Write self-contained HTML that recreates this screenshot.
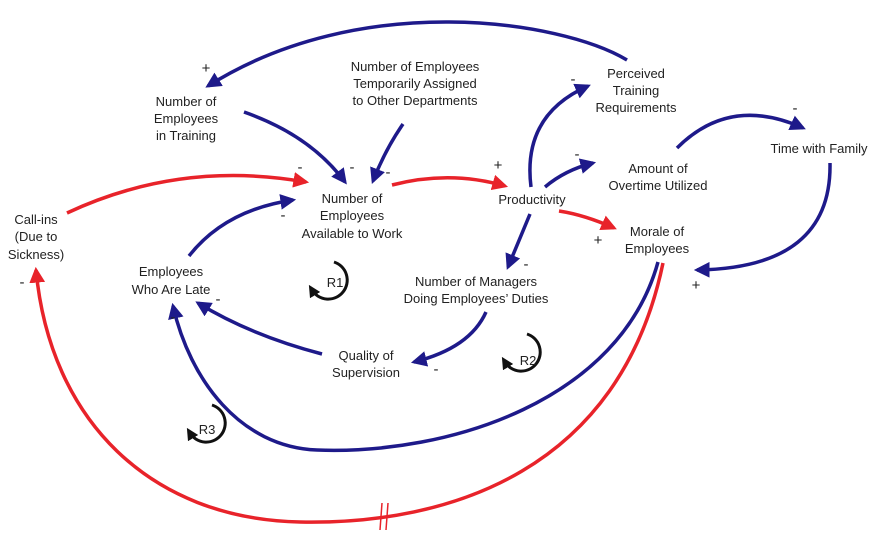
<!DOCTYPE html>
<html><head><meta charset="utf-8"><style>
html,body{margin:0;padding:0;background:#fff;}
svg{display:block;}
text{font-family:"Liberation Sans",sans-serif;font-size:13px;fill:#222;text-anchor:middle;}
.s{font-size:15px;}
</style></head><body>
<svg width="881" height="547" viewBox="0 0 881 547" xmlns="http://www.w3.org/2000/svg">
<defs>
<marker id="b" viewBox="0 0 10 10" refX="8" refY="5" markerWidth="4.5" markerHeight="4.5" orient="auto"><path d="M0,0 L10,5 L0,10 z" fill="#1e1a8a"/></marker>
<marker id="r" viewBox="0 0 10 10" refX="8" refY="5" markerWidth="4.5" markerHeight="4.5" orient="auto"><path d="M0,0 L10,5 L0,10 z" fill="#e8232a"/></marker>
<marker id="k" viewBox="0 0 10 10" refX="5" refY="5" markerWidth="4" markerHeight="4" orient="auto"><path d="M0,0 L10,5 L0,10 z" fill="#111"/></marker>
</defs>
<g fill="none" stroke="#1e1a8a" stroke-width="3.5" marker-end="url(#b)">
<path d="M627,60 C560,20 360,-10 208,86"/>
<path d="M244,112 Q310,135 345,182"/>
<path d="M403,124 Q385,150 373,181"/>
<path d="M189,256 Q225,210 293,200"/>
<path d="M531,187 Q522,115 588,86"/>
<path d="M545,187 Q565,170 593,163"/>
<path d="M677,148 Q730,95 803,128"/>
<path d="M830,163 Q832,268 697,270"/>
<path d="M530,214 L508,267"/>
<path d="M486,312 Q470,348 414,362"/>
<path d="M322,354 Q250,335 198,303"/>
<path d="M658,262 C620,400 450,455 317,450 C240,447 190,380 173,306"/>
</g>
<g fill="none" stroke="#e8232a" stroke-width="3.5" marker-end="url(#r)">
<path d="M67,213 Q180,160 306,182"/>
<path d="M392,185 Q450,170 505,186"/>
<path d="M559,211 Q585,215 614,228"/>
<path d="M663,263 C620,470 450,525 300,522 C150,519 50,420 36,270"/>
</g>
<g stroke="#e8232a" stroke-width="1.5"><line x1="382" y1="503" x2="380" y2="530"/><line x1="388" y1="503" x2="386" y2="530"/></g>
<g fill="none" stroke="#111" stroke-width="3">
<path d="M334,262 A19,19 0 1 1 312,290" marker-end="url(#k)"/>
<path d="M527,334 A19,19 0 1 1 505,362" marker-end="url(#k)"/>
<path d="M212,405 A19,19 0 1 1 190,433" marker-end="url(#k)"/>
</g>
<text x="335" y="287">R1</text><text x="528" y="365">R2</text><text x="207" y="434">R3</text>
<text x="415" y="71">Number of Employees</text><text x="415" y="88">Temporarily Assigned</text><text x="415" y="105">to Other Departments</text>
<text x="186" y="106">Number of</text><text x="186" y="123">Employees</text><text x="186" y="140">in Training</text>
<text x="636" y="78">Perceived</text><text x="636" y="95">Training</text><text x="636" y="112">Requirements</text>
<text x="819" y="153">Time with Family</text>
<text x="658" y="173">Amount of</text><text x="658" y="190">Overtime Utilized</text>
<text x="532" y="204">Productivity</text>
<text x="657" y="236">Morale of</text><text x="657" y="253">Employees</text>
<text x="352" y="203">Number of</text><text x="352" y="220">Employees</text><text x="352" y="238">Available to Work</text>
<text x="36" y="224">Call-ins</text><text x="36" y="241">(Due to</text><text x="36" y="259">Sickness)</text>
<text x="171" y="276">Employees</text><text x="171" y="294">Who Are Late</text>
<text x="476" y="286">Number of Managers</text><text x="476" y="303">Doing Employees’ Duties</text>
<text x="366" y="360">Quality of</text><text x="366" y="377">Supervision</text>
<g>
<text class="s" x="206" y="73">+</text>
<text class="s" x="300" y="172">-</text><text class="s" x="352" y="172">-</text><text class="s" x="388" y="177">-</text><text class="s" x="283" y="220">-</text>
<text class="s" x="498" y="170">+</text>
<text class="s" x="573" y="84">-</text><text class="s" x="577" y="159">-</text><text class="s" x="795" y="113">-</text>
<text class="s" x="526" y="269">-</text><text class="s" x="436" y="374">-</text><text class="s" x="218" y="304">-</text>
<text class="s" x="173" y="322">-</text><text class="s" x="22" y="287">-</text>
<text class="s" x="598" y="245">+</text><text class="s" x="696" y="290">+</text>
</g>
</svg>
</body></html>
